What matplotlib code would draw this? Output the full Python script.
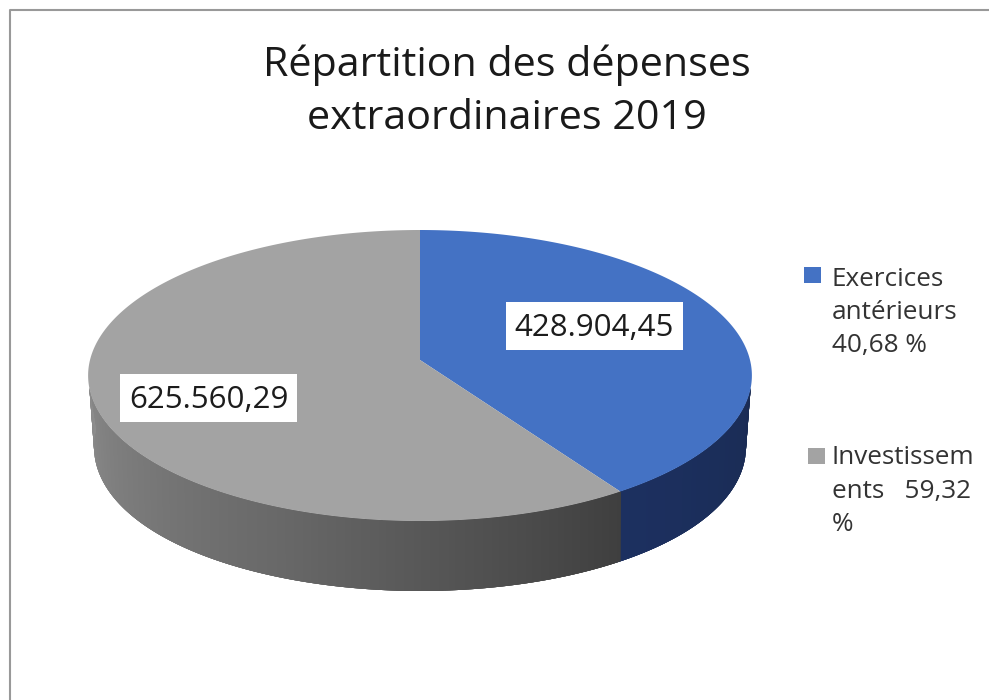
import numpy as np
import matplotlib
matplotlib.use("Agg")
import matplotlib.pyplot as plt
from matplotlib.patches import Rectangle

title_lines = ["Répartition des dépenses", "extraordinaires 2019"]
values = [428904.45, 625560.29]
value_labels = ["428.904,45", "625.560,29"]
legend_labels = [["Exercices", "antérieurs", "40,68 %"], ["Investissem", "ents   59,32", "%"]]
top_colors = ["#4472c4", "#a3a3a3"]

W, H = 989, 700
plt.rcParams["font.family"] = ["Open Sans", "DejaVu Sans"]
fig = plt.figure(figsize=(W / 100, H / 100), dpi=100)
ax = fig.add_axes([0, 0, 1, 1])
ax.set_xlim(0, W)
ax.set_ylim(H, 0)
ax.axis("off")

CX, R_TOP, SHRINK, DEPTH = 420, 330, 6, 70
C, A, B = 0.1065, 360.0, -105.5


def project(theta, bottom=False):
    """Perspective view of a pie whose angle runs clockwise from 12 o'clock."""
    u, v = np.sin(theta), np.cos(theta)
    w = 1 + C * v
    radius = R_TOP - SHRINK * u ** 4 if bottom else R_TOP
    return CX + radius * u / w, (A + B * v) / w + (DEPTH if bottom else 0)


total = sum(values)
edges = 2 * np.pi * np.cumsum([0] + values) / total


def lerp(c0, c1, t):
    a = np.array(matplotlib.colors.to_rgb(c0))
    b = np.array(matplotlib.colors.to_rgb(c1))
    return tuple(a + (b - a) * t)


# Side wall: front-facing part of each slice, drawn as overlapping shaded strips
ts = np.linspace(np.pi / 2, 3 * np.pi / 2, 500)
rim_margin = np.radians(11)
rim_lo, rim_hi = np.pi / 2 + rim_margin, 3 * np.pi / 2 - rim_margin
for i in range(len(ts) - 1):
    t0, t1 = ts[i], ts[min(i + 4, len(ts) - 1)]
    mid = (ts[i] + ts[i + 1]) / 2
    xt0, yt0 = project(np.clip(t0, rim_lo, rim_hi))
    xt1, yt1 = project(np.clip(t1, rim_lo, rim_hi))
    xb0, yb0 = project(t0, bottom=True)
    xb1, yb1 = project(t1, bottom=True)
    if mid < edges[1]:
        f = (mid - np.pi / 2) / (edges[1] - np.pi / 2)
        col = lerp("#1a2b52", "#1c3060", f)
    else:
        f = (mid - edges[1]) / (ts[-1] - edges[1])
        if f < 0.45:
            col = lerp("#3f3f3f", "#686868", f / 0.45)
        else:
            col = lerp("#686868", "#8e8e8e", (f - 0.45) / 0.55)
    ax.fill([xt0, xt1, xb1, xb0], [yt0, yt1, yb1, yb0], color=col, lw=0)

# Top face
for i in range(len(values)):
    th = np.linspace(edges[i], edges[i + 1], 300)
    xs, ys = project(th)
    ax.fill(np.r_[CX, xs], np.r_[A, ys], color=top_colors[i], lw=0)

# Value labels
label_pos = [(594, 328), (208.5, 400)]
box_pos = [(594, 326), (208.5, 398)]
for txt, (x, y), (bx, by) in zip(value_labels, label_pos, box_pos):
    ax.add_patch(Rectangle((bx - 88.5, by - 24), 177, 48, fc="white", ec="none", zorder=3))
    ax.text(x, y, txt, ha="center", va="center", fontsize=22.5, color="#1c1c1c", zorder=4)

# Title
for line, y in zip(title_lines, [76, 129]):
    ax.text(507, y, line, ha="center", va="baseline", fontsize=29.7, color="#1a1a1a")

# Legend
legend_marks = [(804, 267), (808, 448)]
legend_baselines = [[286, 319, 352], [464, 498, 531]]
for lines, col, (sx, sy), ys in zip(legend_labels, top_colors, legend_marks, legend_baselines):
    ax.add_patch(Rectangle((sx, sy), 16.5, 15.5, fc=col, ec="none"))
    for line, y in zip(lines, ys):
        ax.text(832, y, line, ha="left", va="baseline", fontsize=18.8, color="#333333")

# Frame of the screenshot
ax.plot([10, 10, W], [H, 10, 10], color="#999999", lw=1.5)

fig.savefig("out.png", dpi=100)
